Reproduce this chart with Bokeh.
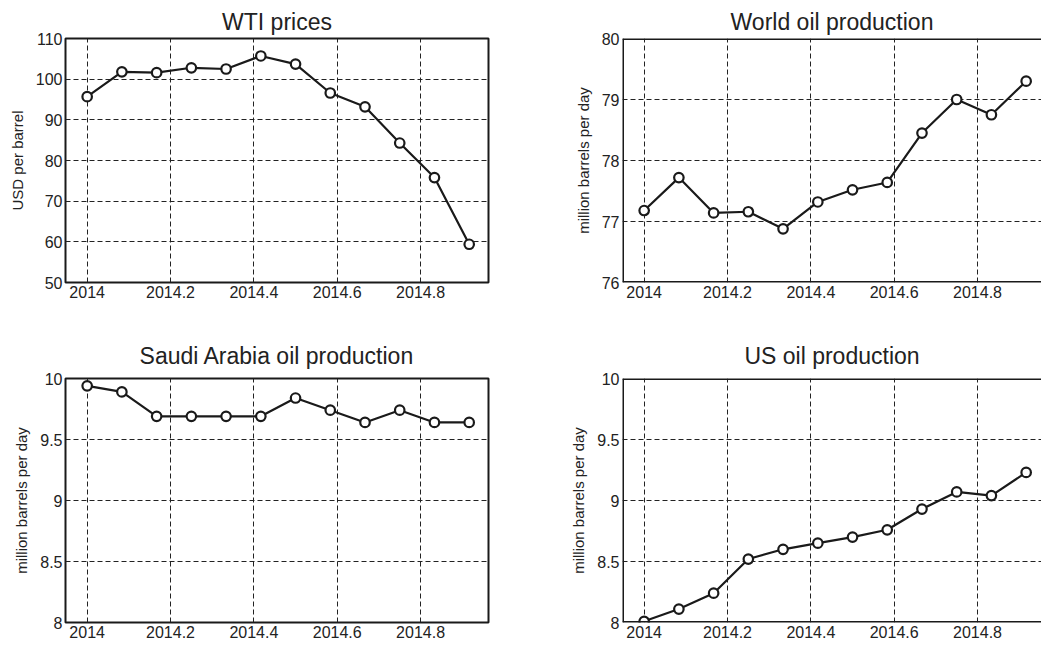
from bokeh.plotting import figure
from bokeh.layouts import column, row
from bokeh.models import Range1d, FixedTicker, CustomJSTickFormatter, Span
from bokeh.embed import file_html
from bokeh.resources import INLINE

months = [2014.0, 2014.0833, 2014.1667, 2014.25, 2014.3333, 2014.4167,
          2014.5, 2014.5833, 2014.6667, 2014.75, 2014.8333, 2014.9167]
x_ticks = [2014, 2014.2, 2014.4, 2014.6, 2014.8]

wti = [95.7, 101.8, 101.6, 102.8, 102.5, 105.7, 103.7, 96.6, 93.2, 84.3, 75.8, 59.4]
world = [77.18, 77.72, 77.14, 77.16, 76.88, 77.32, 77.52, 77.64, 78.45, 79.0, 78.75, 79.30]
saudi = [9.94, 9.89, 9.69, 9.69, 9.69, 9.69, 9.84, 9.74, 9.64, 9.74, 9.64, 9.64]
us = [8.01, 8.11, 8.24, 8.52, 8.60, 8.65, 8.70, 8.76, 8.93, 9.07, 9.04, 9.23]

wti_ticks = [50, 60, 70, 80, 90, 100, 110]
world_ticks = [76, 77, 78, 79, 80]
prod_ticks = [8, 8.5, 9, 9.5, 10]

X0, X1 = 2013.948, 2014.963
FONT = "Liberation Sans"
TXT = "#222222"
LINE = "#1a1a1a"
fmt = "return tick.toString();"


def make(title, ylabel, yvals, yrange, yticks, xend, w, h, bl, br, bt, bb,
         cut, valign, standoff):
    p = figure(width=w, height=h, x_range=Range1d(X0, xend),
               y_range=Range1d(*yrange), output_backend="svg",
               toolbar_location=None, min_border_left=bl, min_border_right=br,
               min_border_top=bt, min_border_bottom=bb, title=title)
    p.background_fill_color = "white"
    p.border_fill_color = "white"
    p.title.align = "center"
    p.title.vertical_align = valign
    p.title.text_font = FONT
    p.title.text_font_size = "23px"
    p.title.text_font_style = "normal"
    p.title.text_color = TXT
    p.title.standoff = standoff
    if cut:
        p.outline_line_color = None
    else:
        p.outline_line_color = LINE
        p.outline_line_width = 2
    for ax in (p.xaxis[0], p.yaxis[0]):
        ax.axis_line_color = None
        ax.major_tick_line_color = None
        ax.minor_tick_line_color = None
        ax.major_tick_out = 0
        ax.major_tick_in = 0
        ax.minor_tick_out = 0
        ax.minor_tick_in = 0
        ax.major_label_text_font = FONT
        ax.major_label_text_font_size = "16px"
        ax.major_label_text_color = TXT
        ax.major_label_standoff = 3
        ax.formatter = CustomJSTickFormatter(code=fmt)
    p.xaxis.ticker = FixedTicker(ticks=x_ticks)
    p.yaxis.ticker = FixedTicker(ticks=yticks)
    p.yaxis.axis_label = ylabel
    p.yaxis.axis_label_text_font = FONT
    p.yaxis.axis_label_text_font_size = "15px"
    p.yaxis.axis_label_text_font_style = "normal"
    p.yaxis.axis_label_text_color = TXT
    p.yaxis.axis_label_standoff = 7
    for g in (p.xgrid[0], p.ygrid[0]):
        g.grid_line_color = "#222222"
        g.grid_line_width = 1
        g.grid_line_dash = "5 3"
    if cut:
        for dim, loc in (("height", X0), ("width", yrange[0]), ("width", yrange[1])):
            p.add_layout(Span(location=loc, dimension=dim, line_color=LINE,
                              line_width=3))
    p.line(months, yvals, line_color=LINE, line_width=2.2)
    p.scatter(months, yvals, marker="circle", size=9.5, fill_color="white",
              line_color=LINE, line_width=2.2)
    return p


p1 = make("WTI prices", "USD per barrel", wti, (50, 110), wti_ticks,
          X1, 548, 326, 65, 60, 38, 44, False, "top", 4)
p2 = make("World oil production", "million barrels per day", world, (76, 80),
          world_ticks, 2014.9535, 493, 326, 74, 0, 38, 44, True, "top", 4)
p3 = make("Saudi Arabia oil production", "million barrels per day", saudi,
          (8, 10), prod_ticks, X1, 548, 322, 65, 60, 52, 26, False, "bottom", 20)
p4 = make("US oil production", "million barrels per day", us, (8, 10),
          prod_ticks, 2014.9535, 493, 322, 74, 0, 52, 26, True, "bottom", 20)

layout = column(row(p1, p2, spacing=0), row(p3, p4, spacing=0), spacing=0)
open("out.html", "w").write(file_html(layout, INLINE))
